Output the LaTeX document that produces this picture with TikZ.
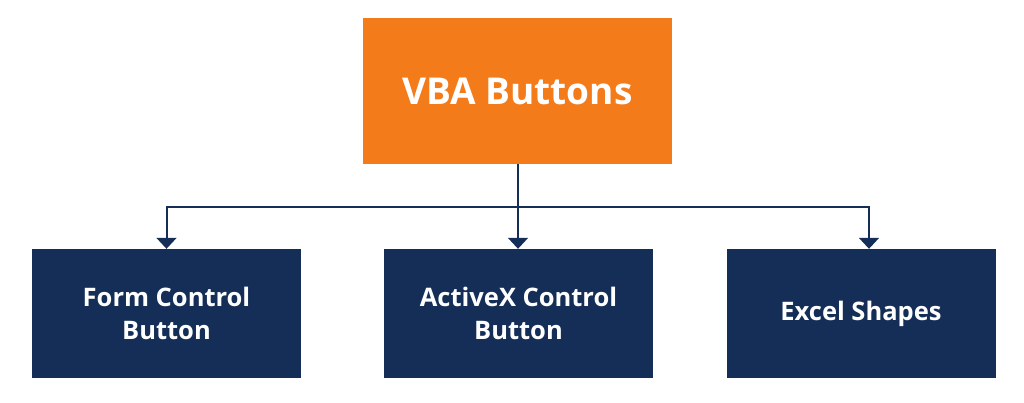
\documentclass[tikz,border=0pt]{standalone}
\usepackage{fontspec}
\setmainfont{Open Sans}
\usetikzlibrary{arrows.meta}
\definecolor{vbaorange}{HTML}{F47B1A}
\definecolor{vbanavy}{HTML}{142E57}
\begin{document}
\begin{tikzpicture}[x=1pt,y=1pt,
  topbox/.style={fill=vbaorange, draw=none, minimum width=309pt, minimum height=146pt, inner sep=0pt, text=white, font=\fontsize{37}{44}\selectfont\bfseries},
  leafbox/.style={fill=vbanavy, draw=none, minimum width=269pt, minimum height=129pt, inner sep=0pt, text=white, align=center, font=\fontsize{25.5}{33}\selectfont\bfseries},
  conn/.style={draw=vbanavy, line width=2pt},
  arr/.style={conn, -{Triangle[width=20pt,length=11pt]}}
]
\useasboundingbox (0,0) rectangle (1024,402);
\node[topbox] (top) at (517.5,311) {VBA Buttons};
\node[leafbox] (b1) at (166.5,88.5) {Form Control\\Button};
\node[leafbox] (b2) at (518.5,88.5) {ActiveX Control\\Button};
\node[leafbox] (b3) at (861,88.5) {Excel Shapes};
\coordinate (j) at (518,195);
\coordinate (t3) at ([xshift=8pt]b3.north);
\draw[conn] (top.south -| j) -- (j);
\draw[arr] (j) -| (b1.north);
\draw[arr] (j) -- (b2.north -| j);
\draw[arr] (j) -| (t3);
\end{tikzpicture}
\end{document}
